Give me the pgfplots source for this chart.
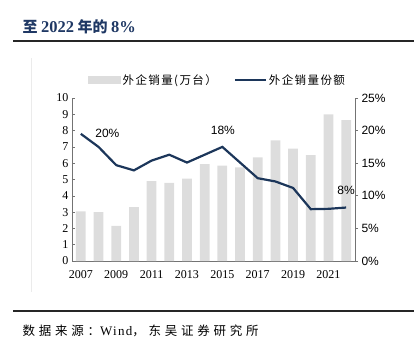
\documentclass[border=0pt]{standalone}
\usepackage{pgfplots}
\pgfplotsset{compat=1.18}
\usepackage{fontspec}
\setmainfont{Liberation Serif}
\newfontfamily\sans{Liberation Sans}
\newfontfamily\cjk{Noto Sans CJK SC}
\definecolor{barGray}{RGB}{221,221,221}
\definecolor{navy}{RGB}{28,54,90}
\definecolor{titleblue}{RGB}{31,56,100}
\begin{document}
\begin{tikzpicture}[x=1pt,y=1pt]
\useasboundingbox (0,0) rectangle (414,356);
% title (second line visible)
\node[anchor=base west,inner sep=0,text=titleblue] at (22.5,323.7)
  {\cjk\bfseries\fontsize{15}{17}\selectfont 至 {\rmfamily\fontsize{16.5}{18}\selectfont 2022} 年的 {\rmfamily\fontsize{16.5}{18}\selectfont 8\%}};
\draw[line width=2pt,black!85] (13,315) -- (414,315);
\draw[black!8,line width=0.6pt] (31.5,298) -- (31.5,64);
\draw[line width=2pt,black!85] (13,45) -- (414,45);
\node[anchor=base west,inner sep=0] at (22.5,21)
  {\cjk\fontsize{12.5}{14}\selectfont\addfontfeature{LetterSpace=30}数据来源：{\rmfamily\fontsize{13}{14}\selectfont\addfontfeature{LetterSpace=10}Wind}，东吴证券研究所};

\begin{axis}[
  at={(72pt,95pt)}, anchor=south west, scale only axis,
  width=283pt, height=163pt,
  xmin=2006.5, xmax=2022.5, ymin=0, ymax=10,
  ytick={0,1,...,10},
  xtick={2007,2009,...,2021},
  minor xtick={2006.5,2007.5,...,2022.5},
  axis x line*=bottom, axis y line*=left,
  axis line style={black!55, line width=0.6pt},
  tick align=inside,
  major tick length=3pt, minor tick length=3pt,
  xtick style={draw=none},
  minor x tick style={black!55, line width=0.6pt},
  ytick style={black!55, line width=0.6pt},
  /pgf/number format/.cd, 1000 sep={}, assume math mode=true,
  /pgfplots/.cd,
  tick label style={font=\fontsize{12}{12}\selectfont},
  xticklabel style={yshift=-3pt},
  ybar, bar width=0.55,
  clip=false,
]
\addplot[fill=barGray, draw=none] coordinates {
(2007,3.05) (2008,3.0) (2009,2.15) (2010,3.3) (2011,4.9) (2012,4.8)
(2013,5.05) (2014,5.95) (2015,5.85) (2016,5.75) (2017,6.35) (2018,7.4)
(2019,6.9) (2020,6.5) (2021,9.0) (2022,8.65)};
\end{axis}

\begin{axis}[
  at={(72pt,95pt)}, anchor=south west, scale only axis,
  width=283pt, height=163pt,
  xmin=2006.5, xmax=2022.5, ymin=0, ymax=25,
  ytick={0,5,...,25},
  axis y line*=right, axis x line=none,
  axis line style={black!55, line width=0.6pt},
  tick align=outside, major tick length=3pt,
  ytick style={black!55, line width=0.6pt},
  /pgf/number format/assume math mode=true,
  yticklabel style={font=\sans\fontsize{12}{12}\selectfont},
  yticklabel={\pgfmathprintnumber{\tick}\%},
  clip=false,
  legend columns=2,
  legend style={at={(0.057,1.11)}, anchor=west, draw=none, fill=none,
    inner sep=0pt, font=\cjk\fontsize{11.5}{12}\selectfont\addfontfeature{LetterSpace=12},
    /tikz/every even column/.append style={column sep=15pt},
    nodes={inner sep=2pt}},
  legend cell align=left,
]
\addlegendimage{legend image code/.code={\fill[barGray] (0pt,-3.5pt) rectangle (32pt,3.5pt);}}
\addlegendentry{外企销量(万台）}
\addplot[navy, line width=2.2pt, mark=none,
  legend image code/.code={\draw[navy,line width=2.2pt] (0pt,0pt) -- (31pt,0pt);}]
 coordinates {
(2007,19.5) (2008,17.5) (2009,14.7) (2010,13.9) (2011,15.4) (2012,16.3)
(2013,15.1) (2014,16.3) (2015,17.5) (2016,15.1) (2017,12.7) (2018,12.2)
(2019,11.2) (2020,7.95) (2021,8.0) (2022,8.2)};
\addlegendentry{外企销量份额}
\node[font=\sans\fontsize{12}{12}\selectfont] at (axis cs:2008.5,19.5) {20\%};
\node[font=\sans\fontsize{12}{12}\selectfont] at (axis cs:2015.03,20.1) {18\%};
\node[font=\sans\fontsize{12}{12}\selectfont] at (axis cs:2022.0,10.9) {8\%};
\end{axis}
\end{tikzpicture}
\end{document}
